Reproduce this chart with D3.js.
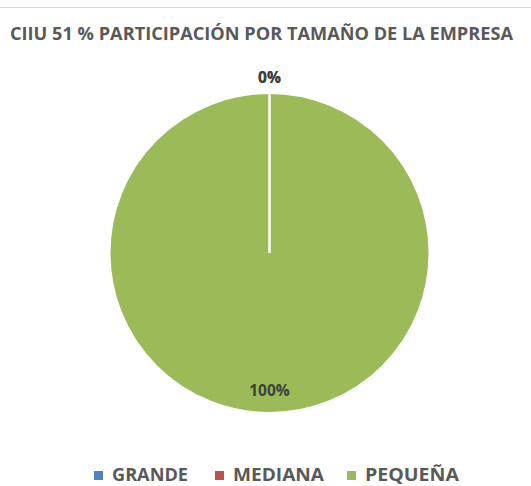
<!DOCTYPE html>
<html><head><meta charset="utf-8">
<script src="https://cdn.jsdelivr.net/npm/d3@7"></script>
<style>body{margin:0;background:#fff}svg{display:block}</style>
</head><body>
<script>
const categories = ["GRANDE", "MEDIANA", "PEQUEÑA"];
const values = [0, 0, 100];
const labels = ["0%", "0%", "100%"];
const colors = ["#4F81BD", "#C0504D", "#9BBB59"];
const title = "CIIU 51 % PARTICIPACIÓN POR TAMAÑO DE LA EMPRESA";

const W = 531, H = 486;
const FONT = "'Open Sans', Lato, sans-serif";
const svg = d3.select("body").append("svg").attr("width", W).attr("height", H);
svg.append("rect").attr("width", W).attr("height", H).attr("fill", "#fff");
svg.append("line").attr("x1", 0).attr("x2", W).attr("y1", 7.5).attr("y2", 7.5)
  .attr("stroke", "#d9d9d9").attr("stroke-width", 1);

svg.append("text").attr("x", 261.5).attr("y", 40).attr("text-anchor", "middle")
  .attr("font-family", FONT).attr("font-weight", "bold")
  .attr("font-size", 18).attr("fill", "#595959")
  .attr("textLength", 503).attr("lengthAdjust", "spacingAndGlyphs").text(title);

const cx = 269.5, cy = 253, r = 160;
const g = svg.append("g").attr("transform", `translate(${cx},${cy})`);
const pie = d3.pie().sort(null).value(d => d)(values);
const arc = d3.arc().innerRadius(0).outerRadius(r);
const ordered = pie.map((d, i) => ({d, i}))
  .sort((a, b) => (b.d.endAngle - b.d.startAngle) - (a.d.endAngle - a.d.startAngle));
g.selectAll("path.s").data(ordered).join("path").attr("class", "s")
  .attr("d", o => arc(o.d)).attr("fill", o => colors[o.i])
  .attr("stroke", "#fff").attr("stroke-width", 2);

pie.forEach((d, i) => {
  let x, y;
  if (d.endAngle - d.startAngle < 0.01) {
    const a = d.startAngle;
    x = Math.sin(a) * (r + 17); y = -Math.cos(a) * (r + 17) + 7;
  } else {
    const a = (d.startAngle + d.endAngle) / 2;
    x = Math.sin(a) * r * 0.81; y = -Math.cos(a) * r * 0.81 + 13;
  }
  g.append("text").attr("x", x).attr("y", y).attr("text-anchor", "middle")
    .attr("font-family", FONT).attr("font-weight", "bold")
    .attr("font-size", 15.5).attr("fill", "#404040").text(labels[i]);
});

const legX = [94, 215, 347];
const legW = [76, 91, 94];
const leg = svg.append("g");
categories.forEach((c, i) => {
  leg.append("rect").attr("x", legX[i]).attr("y", 471).attr("width", 9).attr("height", 9)
    .attr("fill", colors[i]);
  leg.append("text").attr("x", legX[i] + 18).attr("y", 481)
    .attr("font-family", FONT).attr("font-weight", "bold")
    .attr("font-size", 18).attr("fill", "#595959")
    .attr("textLength", legW[i]).attr("lengthAdjust", "spacingAndGlyphs").text(c);
});
</script>
</body></html>
